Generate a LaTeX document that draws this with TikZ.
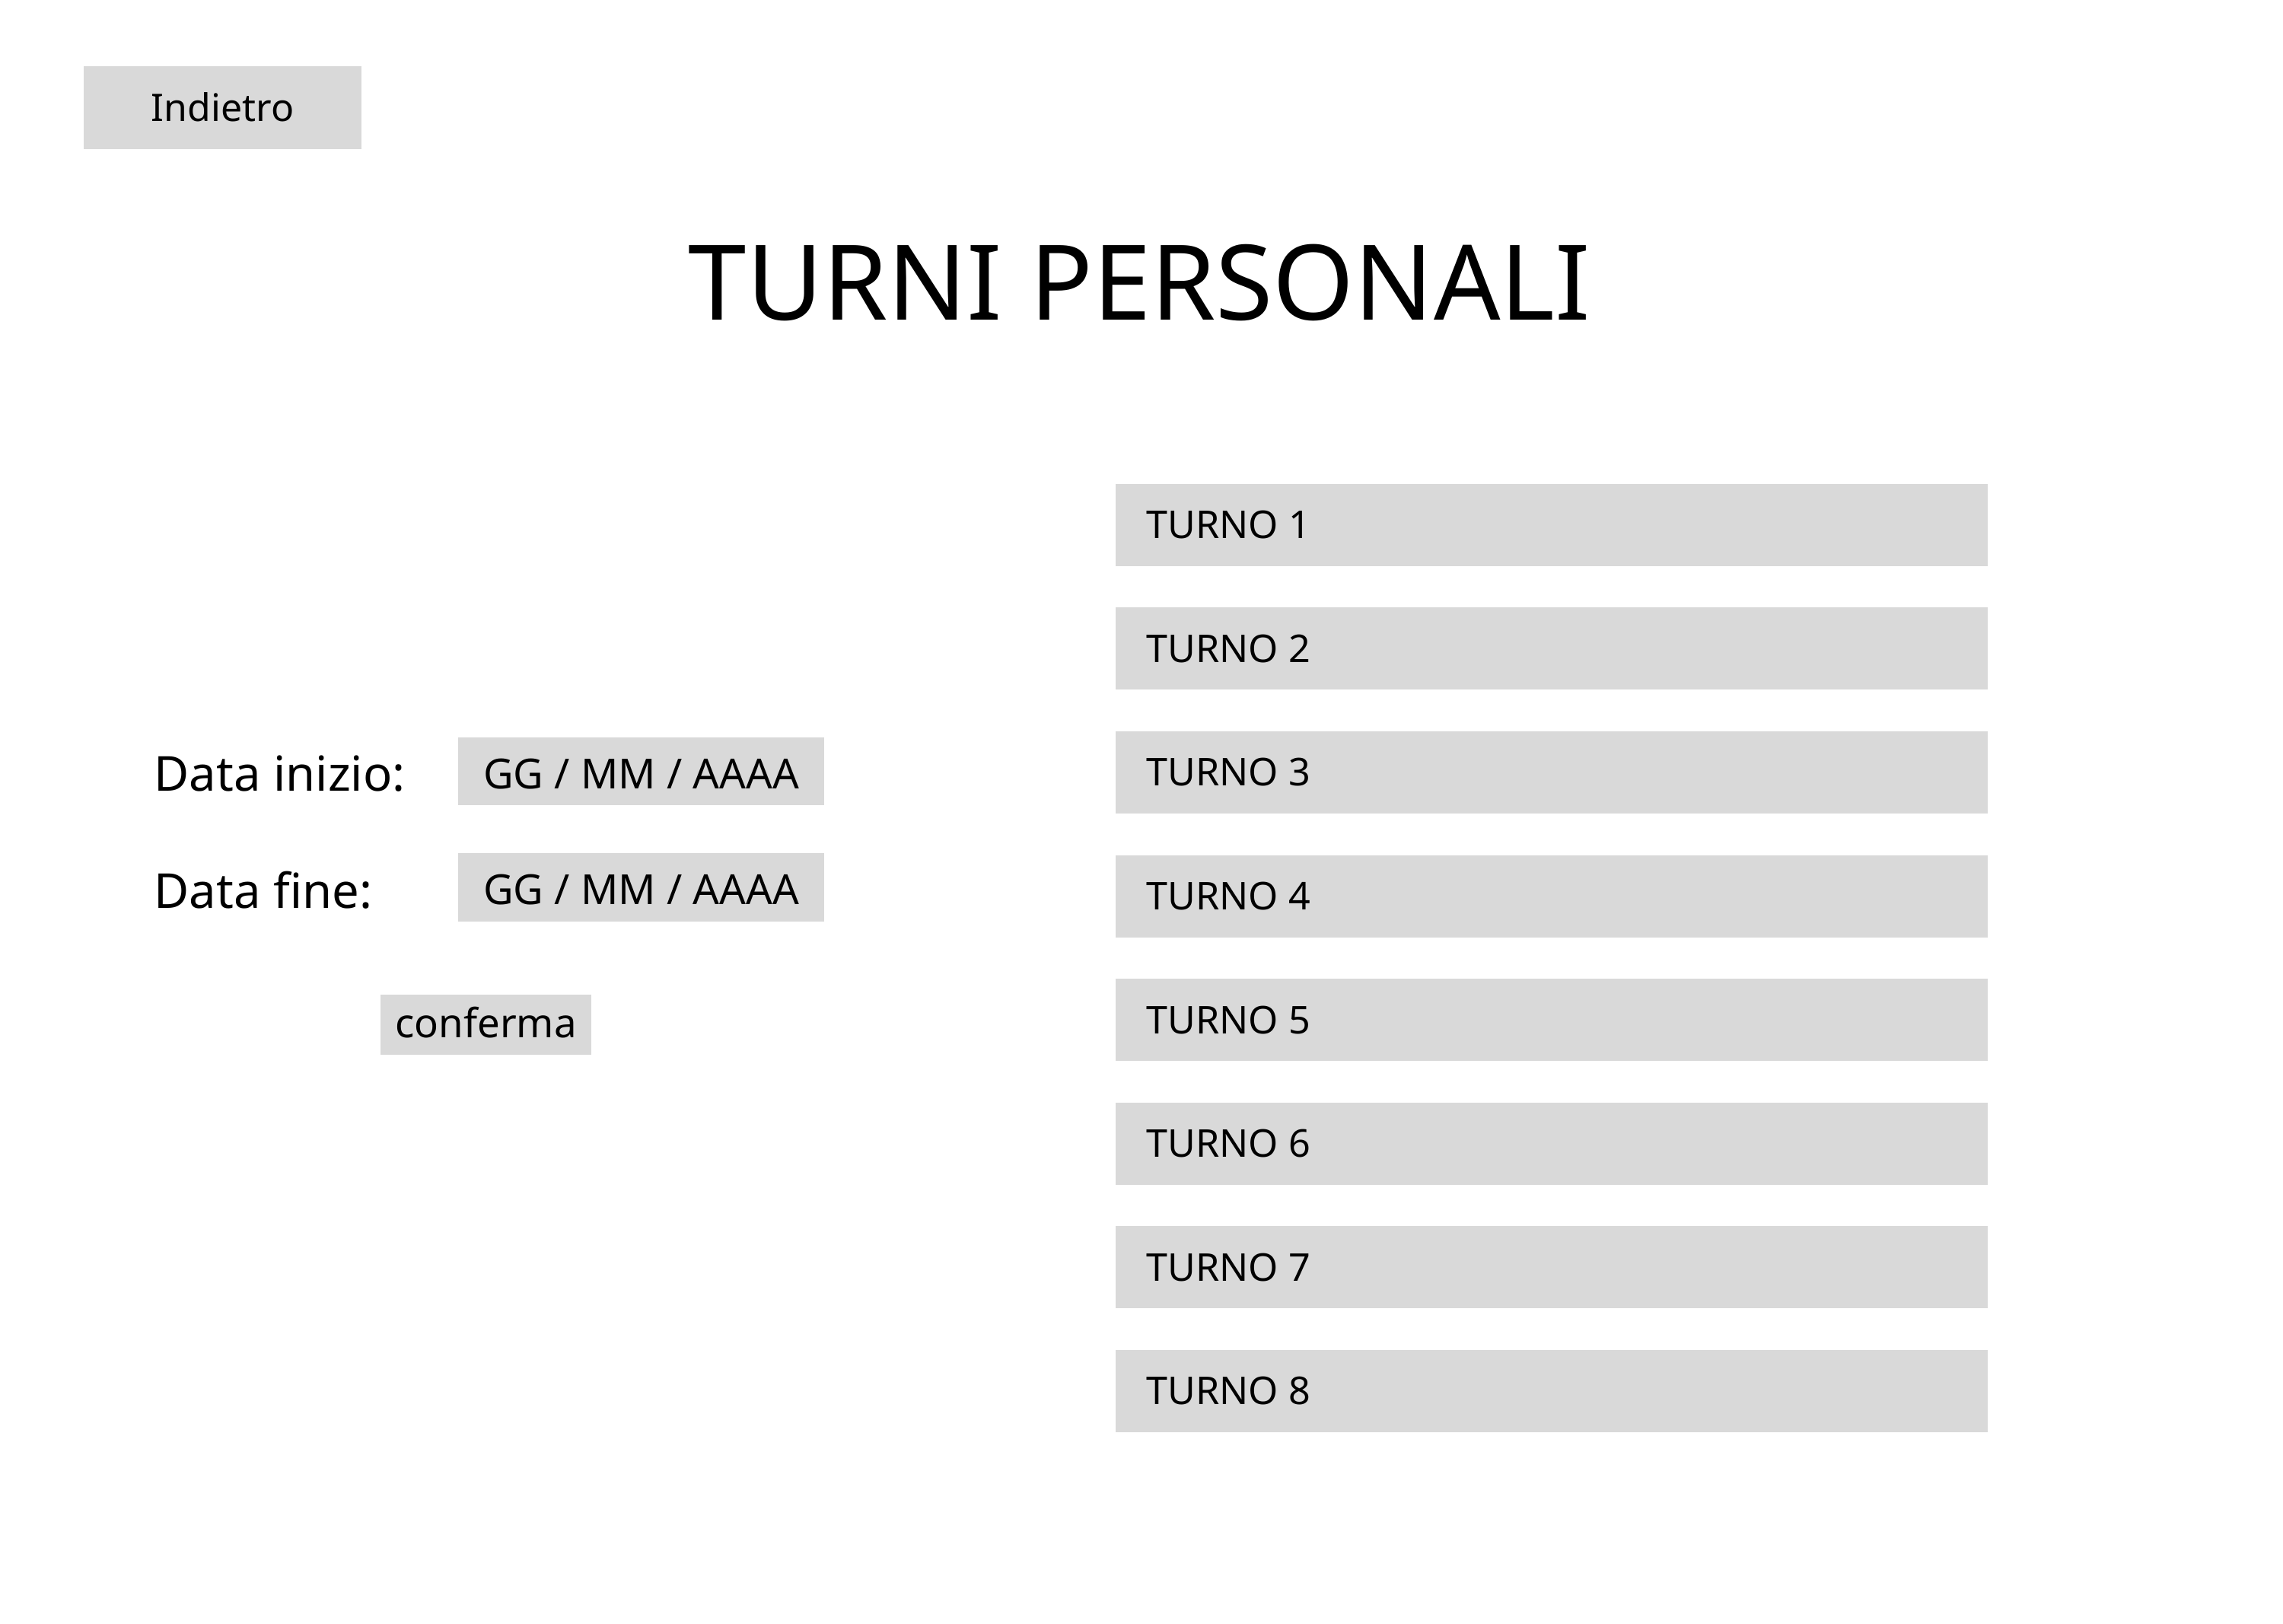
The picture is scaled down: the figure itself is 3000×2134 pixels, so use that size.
\documentclass[tikz,border=0pt]{standalone}
\usepackage{fontspec}
\setmainfont{Noto Sans}
\usetikzlibrary{positioning}
\definecolor{boxgray}{HTML}{D9D9D9}
\tikzset{
  greybox/.style={fill=boxgray, inner sep=0pt, text depth=0pt},
  datelabel/.style={inner sep=0pt, font=\fontsize{18}{22}\selectfont},
  datebox/.style={greybox, minimum width=4.81cm, minimum height=0.89cm,
    text height=0.45cm, font=\fontsize{15.5}{18}\selectfont},
  shiftbox/.style={greybox, minimum width=11.46cm, minimum height=1.08cm},
  shiftlabel/.style={inner sep=0pt, font=\fontsize{14.3}{17}\selectfont},
}

\begin{document}
\begin{tikzpicture}[x=0.01cm, y=-0.01cm]
\useasboundingbox (0,0) rectangle (3000,2134);
% back button
\node[greybox, minimum width=3.65cm, minimum height=1.09cm, text height=0.35cm,
  font=\fontsize{14.2}{17}\selectfont] (back) at (292.5,141.5) {Indietro};
% title
\node[inner sep=0pt, anchor=base, font=\fontsize{39}{47}\selectfont] (title)
  at (1497.5,421) {TURNI PERSONALI};
% date range form
\node[datelabel, anchor=base west] (startlbl) at (202,1039) {Data inizio:};
\node[datelabel, anchor=base west] (endlbl) at (202,1193) {Data fine:};
\node[datebox] (startbox) at (842.5,1013.5) {GG / MM / AAAA};
\node[datebox] (endbox) at (842.5,1166) {GG / MM / AAAA};
\node[greybox, minimum width=2.77cm, minimum height=0.79cm, text height=0.33cm,
  font=\fontsize{15}{18}\selectfont] (confirm) at (638.5,1346.5) {conferma};
% shift list
\foreach \i in {1,...,8}
{
  \node[shiftbox, anchor=north west] (turno\i) at (1465,{635+162.6*(\i-1)}) {};
  \node[shiftlabel, right=0.41cm of turno\i.west] (turnolbl\i) {TURNO \i};
}
\end{tikzpicture}
\end{document}
